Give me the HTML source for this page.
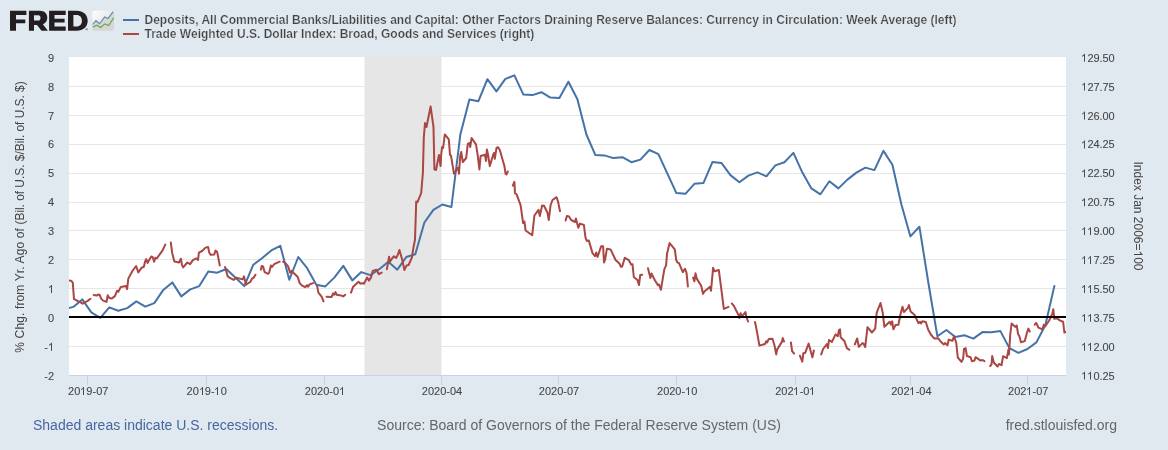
<!DOCTYPE html>
<html><head><meta charset="utf-8"><title>FRED Graph</title>
<style>html,body{margin:0;padding:0;background:#e1e9f0;}body{width:1168px;height:450px;overflow:hidden;}svg{display:block;position:absolute;left:0;top:0;}text{font-family:"Liberation Sans",sans-serif;}.lb{stroke:#444444;stroke-width:0.08px;}</style>
</head><body>
<svg width="1168" height="450" viewBox="0 0 1168 450">
<defs><clipPath id="pc"><rect x="69" y="57" width="997" height="318"/></clipPath>
<clipPath id="ic"><rect x="92.4" y="10.7" width="21.6" height="20" rx="2.2" ry="2.2"/></clipPath>
<linearGradient id="ig" x1="0" y1="0" x2="1" y2="0.9"><stop offset="0" stop-color="#ffffff"/><stop offset="0.5" stop-color="#ececec"/><stop offset="1" stop-color="#dcdcdc"/></linearGradient>
<filter id="gs" x="0" y="0" width="1168" height="450" filterUnits="userSpaceOnUse"><feOffset dx="0" dy="0"/></filter>
</defs>
<rect x="0" y="0" width="1168" height="450" fill="#e1e9f0"/>
<rect x="69" y="57" width="997" height="318" fill="#ffffff"/>
<rect x="364.5" y="56" width="77" height="319" fill="#e6e6e6"/>
<rect x="69" y="56" width="997" height="1" fill="#e6e6e6"/>
<rect x="69" y="86" width="997" height="1" fill="#e6e6e6"/>
<rect x="69" y="115" width="997" height="1" fill="#e6e6e6"/>
<rect x="69" y="144" width="997" height="1" fill="#e6e6e6"/>
<rect x="69" y="173" width="997" height="1" fill="#e6e6e6"/>
<rect x="69" y="202" width="997" height="1" fill="#e6e6e6"/>
<rect x="69" y="230" width="997" height="1" fill="#e6e6e6"/>
<rect x="69" y="259" width="997" height="1" fill="#e6e6e6"/>
<rect x="69" y="288" width="997" height="1" fill="#e6e6e6"/>
<rect x="69" y="346" width="997" height="1" fill="#e6e6e6"/>
<rect x="69" y="375" width="997" height="1" fill="#c8d4e6"/>
<rect x="87" y="375" width="1" height="10" fill="#c8d4e6"/>
<rect x="206" y="375" width="1" height="10" fill="#c8d4e6"/>
<rect x="324" y="375" width="1" height="10" fill="#c8d4e6"/>
<rect x="441" y="375" width="1" height="10" fill="#c8d4e6"/>
<rect x="558" y="375" width="1" height="10" fill="#c8d4e6"/>
<rect x="676" y="375" width="1" height="10" fill="#c8d4e6"/>
<rect x="795" y="375" width="1" height="10" fill="#c8d4e6"/>
<rect x="910" y="375" width="1" height="10" fill="#c8d4e6"/>
<rect x="1027" y="375" width="1" height="10" fill="#c8d4e6"/>
<g clip-path="url(#pc)" fill="none" stroke-linejoin="round" stroke-linecap="round">
<path d="M64.3 309.0 L73.3 306.9 L82.3 299.4 L91.3 312.4 L100.3 317.8 L109.3 307.4 L118.3 310.8 L127.3 308.1 L136.3 301.4 L145.3 306.6 L154.3 303.1 L163.3 289.9 L172.3 282.4 L181.3 296.4 L190.3 289.4 L199.3 286.1 L208.3 271.5 L217.3 272.7 L226.3 269.0 L235.3 277.5 L244.3 286.1 L253.3 264.7 L262.3 258.0 L271.3 250.4 L280.3 245.8 L289.3 279.7 L298.3 257.0 L307.3 268.4 L316.3 284.7 L325.3 286.4 L334.3 277.6 L343.3 265.9 L352.3 280.4 L361.3 272.1 L370.3 275.1 L379.3 269.2 L388.3 261.7 L397.3 269.7 L406.3 257.0 L415.3 254.2 L424.4 222.5 L433.4 209.8 L442.4 204.5 L451.4 207.0 L460.4 134.2 L469.4 99.6 L478.4 101.2 L487.4 79.2 L496.4 91.4 L505.4 78.9 L514.4 75.4 L523.4 94.6 L532.4 95.1 L541.4 92.2 L550.4 97.6 L559.4 98.1 L568.4 81.7 L577.4 99.2 L586.4 134.5 L595.4 155.1 L604.4 155.4 L613.4 158.1 L622.4 157.2 L631.4 162.2 L640.4 159.6 L649.4 150.0 L658.4 154.2 L667.4 173.7 L676.4 193.1 L685.4 193.8 L694.4 183.8 L703.4 183.1 L712.4 162.1 L721.4 162.9 L730.4 175.1 L739.4 182.3 L748.4 175.6 L757.4 172.4 L766.4 176.3 L775.4 165.4 L784.4 162.2 L793.4 152.9 L802.4 172.6 L811.4 188.4 L820.4 194.3 L829.4 181.2 L838.4 188.4 L847.4 179.6 L856.4 172.6 L865.4 167.6 L874.4 170.1 L883.4 150.9 L892.4 164.7 L901.4 204.5 L910.4 236.4 L919.4 226.7 L928.4 283.0 L937.4 336.3 L946.4 330.0 L955.4 337.0 L964.4 335.3 L973.4 338.6 L982.4 332.1 L991.4 332.3 L1000.4 331.1 L1009.4 348.1 L1018.4 352.9 L1027.4 349.0 L1036.4 342.4 L1045.4 325.0 L1054.4 285.9" stroke="#4572a7" stroke-width="2"/>
<path d="M66.0 280.6 L69.0 280.6 L71.0 280.7 L72.8 282.7 L74.0 299.1 L75.7 299.8 L78.7 301.6 L80.7 302.4 L82.7 303.8 L84.4 302.4 L87.4 301.1 L90.4 298.8 M93.7 294.9 L96.9 295.6 L98.2 294.6 L99.6 294.7 L101.1 298.6 L103.2 300.6 L106.6 301.9 L107.7 295.2 L109.4 298.1 L111.6 298.6 L114.9 296.1 L117.1 290.7 L118.3 291.9 L120.8 286.9 L126.1 286.1 L127.1 289.1 L128.3 278.6 L132.4 271.0 L136.1 266.0 L138.3 272.4 L141.7 267.7 L143.9 266.8 L145.0 261.7 L146.2 259.1 L147.5 263.0 L149.4 259.5 L151.3 256.5 L152.8 257.2 L154.1 261.7 L155.4 257.8 L157.0 258.3 L162.7 250.1 L165.3 244.6 M170.8 242.4 L172.1 252.7 L174.4 261.5 L179.0 262.5 L180.9 258.7 L182.0 265.1 L183.2 267.4 L187.3 262.5 L190.1 264.1 L192.9 260.1 L196.5 258.4 L198.0 260.0 L198.9 252.7 L202.1 251.0 L205.5 247.6 L208.1 247.0 L209.2 252.4 L210.6 254.8 L214.3 254.4 L215.5 250.5 L217.2 252.1 L219.8 265.5 M225.1 266.9 L227.6 276.1 L229.3 277.7 L233.8 279.9 L236.0 277.7 L242.6 279.4 L244.0 276.4 L246.0 284.7 L250.2 282.0 L252.0 278.7 L253.7 277.6 L255.5 274.7 M260.9 269.7 L261.7 265.9 L263.0 266.4 L264.7 272.2 L268.0 273.9 L269.2 272.6 L270.9 265.4 L272.0 267.0 L274.2 264.2 L279.7 261.7 M283.1 261.7 L285.4 263.0 L288.1 266.4 L290.1 272.6 L291.7 270.9 L293.7 273.1 L297.6 276.7 L299.7 283.1 L301.8 285.4 L305.1 287.2 L307.1 285.1 L308.1 286.7 L309.8 284.2 L313.1 283.1 M317.1 285.9 L318.4 292.6 L321.8 296.8 L323.5 301.4 M326.5 296.8 L331.5 297.1 L333.1 293.4 L334.3 294.8 L335.5 292.1 L336.8 294.8 L341.0 295.4 L343.2 296.4 L345.2 294.8 M351.0 292.6 L353.2 286.7 L358.5 281.7 L360.2 283.7 L362.2 283.1 L363.9 283.7 L367.2 277.6 L368.9 280.6 L371.0 277.6 L372.7 270.9 L376.5 269.7 L378.9 274.2 L381.6 272.6 M386.9 269.2 L389.1 256.7 L389.9 261.7 L393.9 256.2 L396.1 258.0 L397.7 255.0 L399.4 250.0 L402.3 260.0 L404.4 270.0 L406.6 265.4 L408.6 265.0 L411.9 257.5 L413.6 246.7 L415.0 239.8 L416.0 208.5 L416.2 201.6 L417.5 202.2 L421.2 193.0 L422.9 172.5 L423.8 137.5 L425.0 123.0 L426.5 127.0 L430.6 106.5 L433.5 127.0 L434.4 169.4 L436.0 170.0 L439.0 155.0 L440.6 166.0 L441.2 154.4 L442.1 147.0 L443.1 148.0 L444.8 134.4 L448.8 139.4 L450.0 155.0 L451.0 155.6 L454.0 173.8 L458.1 167.5 L459.0 173.8 L460.2 156.0 L461.2 152.0 L462.8 162.0 L466.2 158.0 L467.8 143.8 L469.4 143.0 L470.2 147.0 L471.6 138.0 L476.0 144.4 L477.8 156.0 L479.4 169.4 L480.6 156.0 L485.0 154.8 L486.0 161.0 L486.9 149.4 L488.1 155.0 L489.8 166.0 L493.1 155.0 L494.0 153.0 L494.8 158.8 L496.5 148.0 L498.1 147.2 L499.8 150.0 L504.4 166.0 L505.6 173.8 L506.5 174.4 L507.8 171.5 M512.8 185.6 L514.4 181.9 L515.0 193.1 L516.5 194.2 L520.6 205.2 L523.1 223.0 L524.4 221.5 L525.6 230.5 L532.2 235.3 L534.4 215.5 L538.5 209.9 L539.8 216.1 L542.1 205.5 L544.0 205.7 L547.5 212.7 L548.8 220.0 L550.6 205.0 L552.5 200.0 L556.6 197.2 L558.1 201.9 L560.0 211.2 M565.6 220.6 L566.9 215.9 L569.0 216.5 L571.2 220.0 L575.0 222.0 L575.9 218.5 L578.3 227.8 L579.9 223.6 L583.9 225.0 L585.4 237.2 L586.8 241.0 L588.8 240.4 L592.5 253.1 L595.0 256.2 L596.2 252.5 L597.5 256.9 L601.2 246.2 L603.1 246.2 L604.0 262.5 L605.0 260.0 L606.9 248.8 L610.6 249.4 L615.6 260.0 L619.4 263.5 L621.0 266.9 L622.2 266.5 L624.8 257.8 L628.8 260.2 L631.2 264.6 L632.5 264.3 L633.8 277.0 L637.5 280.1 L639.0 285.1 L640.2 275.1 L642.2 274.8 M648.0 268.2 L650.4 278.0 L651.5 273.5 L655.0 280.5 L657.8 285.1 L659.0 284.5 L660.9 289.8 L664.3 269.4 L666.1 265.4 L667.0 254.0 L669.6 243.1 L674.8 249.4 L676.2 260.0 L677.5 262.5 L679.0 263.1 L682.8 272.1 L685.0 268.8 L686.5 272.6 L687.9 286.4 M693.1 277.6 L694.4 281.4 L695.5 273.3 L696.9 278.9 L701.2 285.8 L703.1 293.9 L704.4 291.4 L710.0 286.8 L711.0 290.8 L713.1 267.8 L714.5 271.3 L718.8 270.0 L721.2 288.2 L723.8 308.9 L728.5 306.8 M731.9 303.5 L733.8 305.8 L738.8 315.6 L739.4 318.0 L740.6 313.2 L741.9 316.5 L745.4 312.0 L746.2 316.5 L748.1 321.5 M755.0 321.9 L756.9 331.2 L759.4 345.6 L765.0 344.0 L766.2 341.2 L767.1 342.5 L768.8 339.0 L772.5 338.8 L774.4 345.0 L776.2 354.4 L777.2 349.4 L781.9 341.9 L782.8 338.1 L784.0 341.5 M790.9 342.5 L792.1 351.2 L794.0 353.5 M799.9 355.6 L802.3 361.6 L803.3 353.3 L805.3 352.7 L808.6 343.5 L810.4 350.0 L812.4 357.4 L813.9 350.5 M821.2 354.4 L823.1 349.0 L826.9 344.0 L827.9 348.1 L829.0 340.0 L831.9 341.9 L835.6 334.4 L837.8 336.2 L839.0 330.0 L840.0 329.4 L840.6 337.2 L844.4 341.0 L846.9 348.1 L849.4 349.8 M854.8 344.4 L857.2 338.5 L858.8 346.9 L862.5 343.1 L863.8 344.0 L865.2 347.2 L867.5 327.2 L871.9 332.5 L875.2 328.6 L876.7 312.6 L880.5 303.0 L882.7 312.6 L884.4 326.8 L889.7 321.7 L891.0 324.7 L892.2 321.4 L893.4 329.3 L895.5 325.1 L898.4 324.7 L900.5 314.2 L902.5 306.7 L903.9 312.1 L908.1 307.6 L908.9 305.1 L910.6 311.4 L914.7 315.1 L918.4 323.1 L920.1 321.9 L921.1 323.4 L922.4 321.3 L925.8 322.0 L928.1 329.4 L931.2 335.0 L934.4 338.6 L938.3 338.3 L940.6 341.5 L943.8 344.5 L945.0 343.0 L947.4 345.4 L948.8 339.6 L952.4 340.8 L954.0 336.3 L956.2 342.5 L957.8 357.5 L961.5 361.9 L963.1 358.8 L964.0 348.8 L965.6 348.1 L966.9 356.0 L970.6 357.2 L971.9 361.2 L974.4 360.6 L975.6 357.2 L980.6 360.6 L982.5 360.0 L984.4 361.2 M990.2 366.0 L991.5 364.4 L992.2 356.0 L993.8 362.5 L997.5 366.5 L999.0 364.0 L1001.5 365.2 L1003.1 356.2 L1006.9 358.1 L1008.5 349.4 L1009.0 354.4 L1010.2 335.0 L1011.6 323.5 L1015.4 326.9 L1016.7 325.5 L1018.1 334.0 L1019.4 336.2 L1021.0 342.2 L1024.8 341.1 L1027.1 332.2 L1028.4 328.6 L1029.8 331.5 M1034.7 324.7 L1036.2 322.9 L1038.5 327.7 L1042.3 329.4 L1043.9 324.6 L1045.3 326.2 L1049.2 320.5 L1051.3 315.8 L1052.4 313.3 L1053.3 309.3 L1054.3 318.8 L1056.6 318.2 L1060.2 320.6 L1063.1 321.7 L1064.4 332.6 L1065.7 331.8" stroke="#aa4643" stroke-width="2"/>
</g>
<rect x="69" y="316" width="997" height="2" fill="#000000"/>
<g fill="#231f20" fill-rule="evenodd">
<path d="M10 10.8 H26.4 V15.1 H16 V19.5 H25.3 V23.3 H16 V30.8 H10 Z"/>
<path d="M28.9 10.8 H39.6 C44.6 10.8 47.3 13.6 47.3 17.7 C47.3 21 45.6 23.2 42.9 24.2 L47.9 30.8 H41.5 L37 24.9 H34 V30.8 H28.9 Z M34 15.3 V20.5 H38.4 C39.8 20.5 40.5 19.4 40.5 17.9 C40.5 16.4 39.8 15.3 38.4 15.3 Z"/>
<path d="M49.1 10.8 H65.7 V15.1 H54.5 V18.7 H64.6 V22.6 H54.5 V26.6 H65.7 V30.8 H49.1 Z"/>
<path d="M68 10.8 H76.5 C83.5 10.8 87.7 15 87.7 20.8 C87.7 26.6 83.5 30.8 76.5 30.8 H68 Z M73.4 15.1 V26.6 H76.5 C80 26.6 81.9 24.2 81.9 20.8 C81.9 17.4 80 15.1 76.5 15.1 Z"/>
</g>
<circle cx="86.7" cy="29.2" r="1.3" fill="#8c8c8c" opacity="0.75"/>
<g clip-path="url(#ic)">
<rect x="92" y="10" width="23" height="21" fill="url(#ig)"/>
<path d="M92.4 24.6 L95.95 20.7 L99.5 23.75 L104.6 16.9 L108 18.6 L113.2 11.6 L114.5 11.6 V31 H92 Z" fill="#d6d6d6"/>
<path d="M92.4 24.6 L95.95 20.7 L99.5 23.75 L104.6 16.9 L108 18.6 L113.2 11.6" fill="none" stroke="#5b8db3" stroke-width="1.2"/>
<path d="M92.4 27.3 L96.7 25.2 L100.6 27.45 L104.8 23.9 L108.6 25.5 L113.7 17.9" fill="none" stroke="#6aa74d" stroke-width="1.2"/>
</g>
<rect x="123" y="19" width="16" height="2" fill="#4572a7"/>
<rect x="123" y="33" width="16" height="2" fill="#aa4643"/>
<g filter="url(#gs)">
<path class="lb" fill="#444444" transform="translate(79.87,395.00) scale(0.005371,-0.005371)" d="M763 0H583V1147Q518 1085 412.5 1023T223 930V1104Q374 1175 487 1276T647 1472H763Z"/><text x="68.02 74.14 86.37 92.48 96.15 102.26" y="395" font-size="11" class="lb" fill="#444444">209-07</text>
<path class="lb" fill="#444444" transform="translate(198.87,395.00) scale(0.005371,-0.005371)" d="M763 0H583V1147Q518 1085 412.5 1023T223 930V1104Q374 1175 487 1276T647 1472H763Z"/><path class="lb" fill="#444444" transform="translate(213.87,395.00) scale(0.005371,-0.005371)" d="M763 0H583V1147Q518 1085 412.5 1023T223 930V1104Q374 1175 487 1276T647 1472H763Z"/><text x="186.52 192.64 204.87 210.98 220.76" y="395" font-size="11" class="lb" fill="#444444">209-0</text>
<path class="lb" fill="#444444" transform="translate(338.87,395.00) scale(0.005371,-0.005371)" d="M763 0H583V1147Q518 1085 412.5 1023T223 930V1104Q374 1175 487 1276T647 1472H763Z"/><text x="304.82 310.94 317.05 323.17 329.28 332.95" y="395" font-size="11" class="lb" fill="#444444">2020-0</text>
<text x="421.82 427.94 434.05 440.17 446.28 449.95 456.06" y="395" font-size="11" class="lb" fill="#444444">2020-04</text>
<text x="538.82 544.94 551.05 557.17 563.28 566.95 573.06" y="395" font-size="11" class="lb" fill="#444444">2020-07</text>
<path class="lb" fill="#444444" transform="translate(684.87,395.00) scale(0.005371,-0.005371)" d="M763 0H583V1147Q518 1085 412.5 1023T223 930V1104Q374 1175 487 1276T647 1472H763Z"/><text x="657.02 663.14 669.25 675.37 681.48 691.26" y="395" font-size="11" class="lb" fill="#444444">2020-0</text>
<path class="lb" fill="#444444" transform="translate(792.87,395.00) scale(0.005371,-0.005371)" d="M763 0H583V1147Q518 1085 412.5 1023T223 930V1104Q374 1175 487 1276T647 1472H763Z"/><path class="lb" fill="#444444" transform="translate(808.87,395.00) scale(0.005371,-0.005371)" d="M763 0H583V1147Q518 1085 412.5 1023T223 930V1104Q374 1175 487 1276T647 1472H763Z"/><text x="775.22 781.34 787.45 799.68 803.35" y="395" font-size="11" class="lb" fill="#444444">202-0</text>
<path class="lb" fill="#444444" transform="translate(908.87,395.00) scale(0.005371,-0.005371)" d="M763 0H583V1147Q518 1085 412.5 1023T223 930V1104Q374 1175 487 1276T647 1472H763Z"/><text x="891.22 897.34 903.45 915.68 919.35 925.46" y="395" font-size="11" class="lb" fill="#444444">202-04</text>
<path class="lb" fill="#444444" transform="translate(1025.87,395.00) scale(0.005371,-0.005371)" d="M763 0H583V1147Q518 1085 412.5 1023T223 930V1104Q374 1175 487 1276T647 1472H763Z"/><text x="1008.02 1014.14 1020.25 1032.48 1036.15 1042.26" y="395" font-size="11" class="lb" fill="#444444">202-07</text>
<text x="44.22 47.88" y="379.6" font-size="11" class="lb" fill="#444444">-2</text>
<path class="lb" fill="#444444" transform="translate(47.87,350.70) scale(0.005371,-0.005371)" d="M763 0H583V1147Q518 1085 412.5 1023T223 930V1104Q374 1175 487 1276T647 1472H763Z"/><text x="44.22" y="350.7" font-size="11" class="lb" fill="#444444">-</text>
<text x="47.88" y="321.8" font-size="11" class="lb" fill="#444444">0</text>
<path class="lb" fill="#444444" transform="translate(47.87,292.90) scale(0.005371,-0.005371)" d="M763 0H583V1147Q518 1085 412.5 1023T223 930V1104Q374 1175 487 1276T647 1472H763Z"/>
<text x="47.88" y="264" font-size="11" class="lb" fill="#444444">2</text>
<text x="47.88" y="235.1" font-size="11" class="lb" fill="#444444">3</text>
<text x="47.88" y="206.2" font-size="11" class="lb" fill="#444444">4</text>
<text x="47.88" y="177.3" font-size="11" class="lb" fill="#444444">5</text>
<text x="47.88" y="148.4" font-size="11" class="lb" fill="#444444">6</text>
<text x="47.88" y="119.5" font-size="11" class="lb" fill="#444444">7</text>
<text x="47.88" y="90.6" font-size="11" class="lb" fill="#444444">8</text>
<text x="47.88" y="61.7" font-size="11" class="lb" fill="#444444">9</text>
<path class="lb" fill="#444444" transform="translate(1080.93,379.60) scale(0.005269,-0.005371)" d="M763 0H583V1147Q518 1085 412.5 1023T223 930V1104Q374 1175 487 1276T647 1472H763Z"/><path class="lb" fill="#444444" transform="translate(1086.93,379.60) scale(0.005269,-0.005371)" d="M763 0H583V1147Q518 1085 412.5 1023T223 930V1104Q374 1175 487 1276T647 1472H763Z"/><text x="1093.50 1099.50 1102.50 1108.50" y="379.6" font-size="11" class="lb" fill="#444444">0.25</text>
<path class="lb" fill="#444444" transform="translate(1080.93,350.70) scale(0.005269,-0.005371)" d="M763 0H583V1147Q518 1085 412.5 1023T223 930V1104Q374 1175 487 1276T647 1472H763Z"/><path class="lb" fill="#444444" transform="translate(1086.93,350.70) scale(0.005269,-0.005371)" d="M763 0H583V1147Q518 1085 412.5 1023T223 930V1104Q374 1175 487 1276T647 1472H763Z"/><text x="1093.50 1099.50 1102.50 1108.50" y="350.7" font-size="11" class="lb" fill="#444444">2.00</text>
<path class="lb" fill="#444444" transform="translate(1080.93,321.80) scale(0.005269,-0.005371)" d="M763 0H583V1147Q518 1085 412.5 1023T223 930V1104Q374 1175 487 1276T647 1472H763Z"/><path class="lb" fill="#444444" transform="translate(1086.93,321.80) scale(0.005269,-0.005371)" d="M763 0H583V1147Q518 1085 412.5 1023T223 930V1104Q374 1175 487 1276T647 1472H763Z"/><text x="1093.50 1099.50 1102.50 1108.50" y="321.8" font-size="11" class="lb" fill="#444444">3.75</text>
<path class="lb" fill="#444444" transform="translate(1080.93,292.90) scale(0.005269,-0.005371)" d="M763 0H583V1147Q518 1085 412.5 1023T223 930V1104Q374 1175 487 1276T647 1472H763Z"/><path class="lb" fill="#444444" transform="translate(1086.93,292.90) scale(0.005269,-0.005371)" d="M763 0H583V1147Q518 1085 412.5 1023T223 930V1104Q374 1175 487 1276T647 1472H763Z"/><text x="1093.50 1099.50 1102.50 1108.50" y="292.9" font-size="11" class="lb" fill="#444444">5.50</text>
<path class="lb" fill="#444444" transform="translate(1080.93,264.00) scale(0.005269,-0.005371)" d="M763 0H583V1147Q518 1085 412.5 1023T223 930V1104Q374 1175 487 1276T647 1472H763Z"/><path class="lb" fill="#444444" transform="translate(1086.93,264.00) scale(0.005269,-0.005371)" d="M763 0H583V1147Q518 1085 412.5 1023T223 930V1104Q374 1175 487 1276T647 1472H763Z"/><text x="1093.50 1099.50 1102.50 1108.50" y="264" font-size="11" class="lb" fill="#444444">7.25</text>
<path class="lb" fill="#444444" transform="translate(1080.93,235.10) scale(0.005269,-0.005371)" d="M763 0H583V1147Q518 1085 412.5 1023T223 930V1104Q374 1175 487 1276T647 1472H763Z"/><path class="lb" fill="#444444" transform="translate(1086.93,235.10) scale(0.005269,-0.005371)" d="M763 0H583V1147Q518 1085 412.5 1023T223 930V1104Q374 1175 487 1276T647 1472H763Z"/><text x="1093.50 1099.50 1102.50 1108.50" y="235.1" font-size="11" class="lb" fill="#444444">9.00</text>
<path class="lb" fill="#444444" transform="translate(1080.93,206.20) scale(0.005269,-0.005371)" d="M763 0H583V1147Q518 1085 412.5 1023T223 930V1104Q374 1175 487 1276T647 1472H763Z"/><text x="1087.50 1093.50 1099.50 1102.50 1108.50" y="206.2" font-size="11" class="lb" fill="#444444">20.75</text>
<path class="lb" fill="#444444" transform="translate(1080.93,177.30) scale(0.005269,-0.005371)" d="M763 0H583V1147Q518 1085 412.5 1023T223 930V1104Q374 1175 487 1276T647 1472H763Z"/><text x="1087.50 1093.50 1099.50 1102.50 1108.50" y="177.3" font-size="11" class="lb" fill="#444444">22.50</text>
<path class="lb" fill="#444444" transform="translate(1080.93,148.40) scale(0.005269,-0.005371)" d="M763 0H583V1147Q518 1085 412.5 1023T223 930V1104Q374 1175 487 1276T647 1472H763Z"/><text x="1087.50 1093.50 1099.50 1102.50 1108.50" y="148.4" font-size="11" class="lb" fill="#444444">24.25</text>
<path class="lb" fill="#444444" transform="translate(1080.93,119.50) scale(0.005269,-0.005371)" d="M763 0H583V1147Q518 1085 412.5 1023T223 930V1104Q374 1175 487 1276T647 1472H763Z"/><text x="1087.50 1093.50 1099.50 1102.50 1108.50" y="119.5" font-size="11" class="lb" fill="#444444">26.00</text>
<path class="lb" fill="#444444" transform="translate(1080.93,90.60) scale(0.005269,-0.005371)" d="M763 0H583V1147Q518 1085 412.5 1023T223 930V1104Q374 1175 487 1276T647 1472H763Z"/><text x="1087.50 1093.50 1099.50 1102.50 1108.50" y="90.6" font-size="11" class="lb" fill="#444444">27.75</text>
<path class="lb" fill="#444444" transform="translate(1080.93,61.70) scale(0.005269,-0.005371)" d="M763 0H583V1147Q518 1085 412.5 1023T223 930V1104Q374 1175 487 1276T647 1472H763Z"/><text x="1087.50 1093.50 1099.50 1102.50 1108.50" y="61.7" font-size="11" class="lb" fill="#444444">29.50</text>
<text transform="translate(23.5,352.67) rotate(-90)" font-size="12" fill="#444444" textLength="124.6" lengthAdjust="spacing">% Chg. from Yr. Ago of</text>
<text transform="translate(23.5,224.5) rotate(-90)" font-size="12" fill="#444444" textLength="143.2" lengthAdjust="spacing">(Bil. of U.S. $/Bil. of U.S. $)</text>
<g transform="translate(1134,216) rotate(90)"><path class="nl" fill="#444444" transform="translate(34.52,0.00) scale(0.005859,-0.005859)" d="M763 0H583V1147Q518 1085 412.5 1023T223 930V1104Q374 1175 487 1276T647 1472H763Z"/><text x="-54.54 -51.20 -44.53 -37.86 -31.19 -21.85 -15.85 -9.18 0.83 7.50 14.17 20.84 27.52 41.20 47.87" y="0" font-size="12" class="nl" fill="#444444">IndexJan2006=00</text></g>
<text x="144.5" y="24" font-size="12" font-weight="bold" fill="#444444" stroke="#e1e9f0" stroke-width="0.22" style="paint-order:fill stroke">Deposits, All Commercial Banks/Liabilities and Capital: Other Factors Draining Reserve Balances: Currency in Circulation: Week Average (left)</text>
<text x="144.5" y="38" font-size="12" font-weight="bold" fill="#444444" stroke="#e1e9f0" stroke-width="0.22" style="paint-order:fill stroke">Trade Weighted U.S. Dollar Index: Broad, Goods and Services (right)</text>
<text x="33" y="430.4" font-size="14" fill="#4566a0">Shaded areas indicate U.S. recessions.</text>
<text x="579" y="430.4" font-size="14" fill="#666666" text-anchor="middle">Source: Board of Governors of the Federal Reserve System (US)</text>
<text x="1117" y="430.4" font-size="14" fill="#666666" text-anchor="end">fred.stlouisfed.org</text>
</g>
</svg></body></html>
